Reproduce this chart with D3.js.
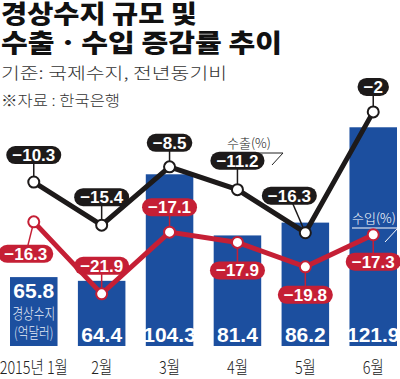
<!DOCTYPE html>
<html>
<head>
<meta charset="utf-8">
<script src="https://cdn.jsdelivr.net/npm/d3@7"></script>
<style>
  body { margin: 0; background: #fff; }
  svg { display: block; }
  text { font-family: "Noto Sans CJK KR", "Noto Sans", sans-serif; }
  .num { font-family: "Liberation Sans Narrow", "Liberation Sans", sans-serif; font-weight: bold; }
</style>
</head>
<body>
<div id="chart"></div>
<script>
// data
var months = ["2015년 1월", "2월", "3월", "4월", "5월", "6월"];
var balance = [65.8, 64.4, 104.3, 81.4, 86.2, 121.9];   // 경상수지 (억달러)
var exportRate = [-10.3, -15.4, -8.5, -11.2, -16.3, -2]; // 수출 (%)
var importRate = [-16.3, -21.9, -17.1, -17.9, -19.8, -17.3]; // 수입 (%)

// label placement relative to each point (layout only)
var exportOffset = [[0, -27], [0, -28], [0, -24], [0, -29], [-16, -37], [0, -25]];
var importOffset = [[-8, 32], [0, -28], [0, -25], [0, 28], [0, 28], [0, 27]];

var width = 400, height = 379;
var blue = "#1c4f9f", red = "#c51f35", black = "#1d1a1a";

var svg = d3.select("#chart").append("svg")
  .attr("width", width)
  .attr("height", height);

// title block, widths fitted to the layout
function head(txt, y, size, weight, len, color) {
  svg.append("text").attr("x", 1).attr("y", y)
    .attr("font-size", size).attr("font-weight", weight).attr("fill", color)
    .attr("textLength", len).attr("lengthAdjust", "spacingAndGlyphs")
    .text(txt);
}
head("경상수지 규모 및", 23, 25, 900, 196, "#111");
head("수출ㆍ수입 증감률 추이", 52, 25, 900, 281, "#111");
head("기준: 국제수지, 전년동기비", 79, 16, 300, 226, "#333");
head("※자료 : 한국은행", 106, 15, 300, 119, "#333");

var x = d3.scaleBand()
  .domain(months)
  .range([10, 397])
  .paddingInner(0.3)
  .paddingOuter(0);

var yBar = d3.scaleLinear().domain([40, 125]).range([346, 119]);
var yExp = d3.scaleLinear().domain([-20, 0]).range([264, 95]);
var yImp = d3.scaleLinear().domain([-23, -16]).range([308, 218]);

function cx(i) { return x(months[i]) + x.bandwidth() / 2; }

// bars
svg.selectAll("rect.bar")
  .data(balance)
  .enter()
  .append("rect")
  .attr("class", "bar")
  .attr("x", function(d, i) { return x(months[i]); })
  .attr("y", function(d) { return yBar(d); })
  .attr("width", x.bandwidth())
  .attr("height", function(d) { return yBar.range()[0] - yBar(d); })
  .attr("fill", blue);

// bar values
svg.selectAll("text.barval")
  .data(balance)
  .enter()
  .append("text")
  .attr("class", "barval num")
  .attr("text-anchor", "middle")
  .attr("x", function(d, i) { return cx(i); })
  .attr("y", function(d, i) { return i == 0 ? 298 : 342; })
  .attr("font-size", 21)
  .attr("fill", "#fff")
  .text(function(d) { return d; });

// unit note inside first bar
[["경상수지", 319], ["(억달러)", 338]].forEach(function(t) {
  svg.append("text").attr("text-anchor", "middle")
    .attr("transform", "translate(" + cx(0) + "," + t[1] + ") scale(0.8,1)")
    .attr("font-size", 14.5).attr("font-weight", 300).attr("fill", "#e6ecf7")
    .text(t[0]);
});

// month labels
svg.selectAll("text.month")
  .data(months)
  .enter()
  .append("text")
  .attr("class", "month")
  .attr("text-anchor", "middle")
  .attr("transform", function(d, i) { return "translate(" + cx(i) + ",374) scale(0.8,1)"; })
  .attr("font-size", 18)
  .attr("font-weight", 300)
  .attr("fill", "#222")
  .text(function(d) { return d; });

// legend notes
function note(tx, ty, label, color, x1, x2, ly, dx, dy) {
  svg.append("text").attr("x", tx).attr("y", ty)
    .attr("font-size", 13).attr("font-weight", 300).attr("fill", color)
    .text(label);
  svg.append("polyline")
    .attr("points", [[x1, ly], [x2, ly], [x2 + dx, ly + dy]].join(" "))
    .attr("fill", "none").attr("stroke", color).attr("stroke-width", 1);
}
note(227, 148, "수출(%)", "#222", 227, 283, 153, -11, 12);
note(352, 223, "수입(%)", "#fff", 352, 398, 228, -13, 14);

// lines with bubble labels
function drawSeries(values, yScale, color, offsets) {
  var line = d3.line()
    .x(function(d, i) { return cx(i); })
    .y(function(d) { return yScale(d); });

  var g = svg.append("g");

  // pointers from labels to points
  g.selectAll("line.ptr")
    .data(values)
    .enter()
    .append("line")
    .attr("x1", function(d, i) { return cx(i); })
    .attr("y1", function(d) { return yScale(d); })
    .attr("x2", function(d, i) { return cx(i) + offsets[i][0]; })
    .attr("y2", function(d, i) { return yScale(d) + offsets[i][1]; })
    .attr("stroke", color)
    .attr("stroke-width", 1.5);

  g.append("path")
    .datum(values)
    .attr("d", line)
    .attr("fill", "none")
    .attr("stroke", color)
    .attr("stroke-width", 5)
    .attr("stroke-linejoin", "miter");

  g.selectAll("circle")
    .data(values)
    .enter()
    .append("circle")
    .attr("cx", function(d, i) { return cx(i); })
    .attr("cy", function(d) { return yScale(d); })
    .attr("r", 5.5)
    .attr("fill", "#fff")
    .attr("stroke", color)
    .attr("stroke-width", 2);

  var labels = g.selectAll("g.lab")
    .data(values)
    .enter()
    .append("g")
    .attr("transform", function(d, i) {
      return "translate(" + (cx(i) + offsets[i][0]) + "," + (yScale(d) + offsets[i][1]) + ")";
    });

  var rects = labels.append("rect")
    .attr("fill", color);

  var texts = labels.append("text")
    .attr("class", "num")
    .attr("text-anchor", "middle")
    .attr("y", 6)
    .attr("font-size", 17)
    .attr("fill", "#fff")
    .text(function(d) { return "−" + Math.abs(d); });

  texts.each(function(d, i) {
    var w = this.getComputedTextLength() + 12;
    d3.select(rects.nodes()[i])
      .attr("x", -w / 2).attr("y", -9)
      .attr("width", w).attr("height", 18)
      .attr("rx", 9);
  });
}

drawSeries(exportRate, yExp, black, exportOffset);
drawSeries(importRate, yImp, red, importOffset);
</script>
</body>
</html>
